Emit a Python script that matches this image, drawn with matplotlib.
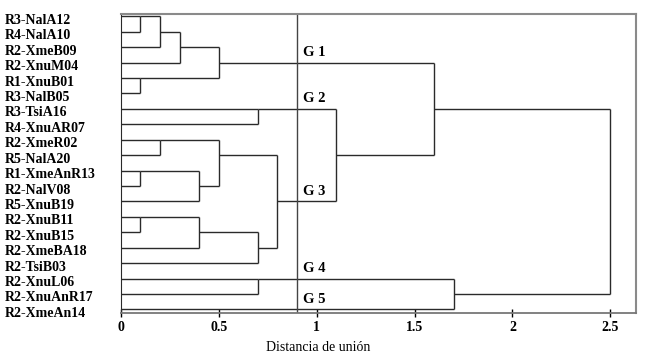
import matplotlib
matplotlib.use("Agg")
import matplotlib.pyplot as plt
from matplotlib.transforms import ScaledTranslation

plt.rcParams['font.family'] = ['Liberation Serif', 'DejaVu Serif']

# leaves, top to bottom
labels = ['R3-NalA12', 'R4-NalA10', 'R2-XmeB09', 'R2-XnuM04', 'R1-XnuB01',
          'R3-NalB05', 'R3-TsiA16', 'R4-XnuAR07', 'R2-XmeR02', 'R5-NalA20',
          'R1-XmeAnR13', 'R2-NalV08', 'R5-XnuB19', 'R2-XnuB11', 'R2-XnuB15',
          'R2-XmeBA18', 'R2-TsiB03', 'R2-XnuL06', 'R2-XnuAnR17', 'R2-XmeAn14']

# merges: (node a, node b, distance); new node ids start at len(labels)
merges = [(0, 1, 0.1), (4, 5, 0.1), (10, 11, 0.1), (13, 14, 0.1),
          (20, 2, 0.2), (8, 9, 0.2), (24, 3, 0.3), (22, 12, 0.4),
          (23, 15, 0.4), (26, 21, 0.5), (25, 27, 0.5), (6, 7, 0.7),
          (28, 16, 0.7), (17, 18, 0.7), (30, 32, 0.8), (31, 34, 1.1),
          (29, 35, 1.6), (33, 19, 1.7), (36, 37, 2.5)]

groups = ['G 1', 'G 2', 'G 3', 'G 4', 'G 5']
group_nodes = [29, 31, 34, 17, 19]
cut = 0.9
xticks = [0, 0.5, 1, 1.5, 2, 2.5]
xticklabels = ['0', '0.5', '1', '1.5', '2', '2.5']

fig = plt.figure(figsize=(6.5, 3.64), dpi=100)
ax = fig.add_axes([120.9/650, 1-312.5/364, (635.7-120.9)/650, (312.5-14)/364])

lc = '#2a2a2a'
n = len(labels)
nodes = {i: (i, 0.0) for i in range(n)}
for k, (a, b, d) in enumerate(merges):
    pa, ha = nodes[a]
    pb, hb = nodes[b]
    ax.plot([ha, d], [pa, pa], color=lc, lw=1.0, solid_capstyle='butt')
    ax.plot([hb, d], [pb, pb], color=lc, lw=1.0, solid_capstyle='butt')
    ax.plot([d, d], [pa, pb], color=lc, lw=1.0, solid_capstyle='butt')
    # the joined cluster goes on from the middle row
    nodes[n + k] = ((pa + pb) // 2, d)

ax.axvline(cut, color='#444444', lw=1.0)

for g, node in zip(groups, group_nodes):
    ax.text(0.93, nodes[node][0] - 0.22, g, fontsize=10.5, fontweight='bold',
            ha='left', va='bottom')

ax.set_xlim(0, 2.63)
ax.set_ylim(n - 1 + 0.2, -0.15)

ax.set_yticks(range(n))
ax.set_yticklabels(labels, fontsize=10, fontweight='bold')
ax.tick_params(axis='y', length=0, pad=0)
shift = ScaledTranslation(-(120.9 - 5) / 100, -2.5 / 100, fig.dpi_scale_trans)
for lbl in ax.get_yticklabels():
    lbl.set_ha('left')
    lbl.set_transform(lbl.get_transform() + shift)

ax.set_xticks(xticks)
ax.set_xticklabels(xticklabels, fontsize=10, fontweight='bold')
ax.tick_params(axis='x', direction='inout', length=6, width=1, pad=3)
ax.set_xlabel('Distancia de unión', fontsize=10, x=0.383, labelpad=5)

for side in ['top', 'right']:
    ax.spines[side].set_color('#8a8a8a')
    ax.spines[side].set_linewidth(1.5)
ax.spines['bottom'].set_color('#777777')
ax.spines['bottom'].set_linewidth(1.3)
ax.spines['left'].set_color(lc)

fig.savefig('out.png', dpi=100)
